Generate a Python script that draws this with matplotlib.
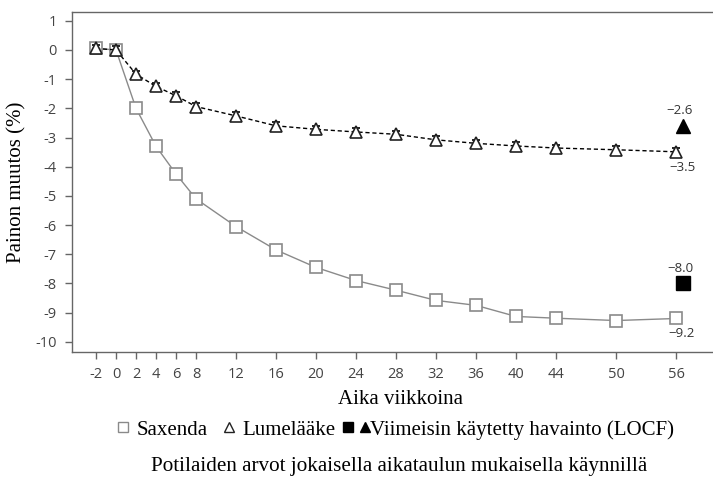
"""
Painon muutos (%) ajan funktiona: Saxenda vs. lumelääke.
"""
import matplotlib
matplotlib.use("Agg")
import matplotlib.pyplot as plt
from matplotlib.lines import Line2D
from matplotlib.legend_handler import HandlerTuple

WEEKS = [-2, 0, 2, 4, 6, 8, 12, 16, 20, 24, 28, 32, 36, 40, 44, 50, 56]
SAXENDA = [0.05, 0.0, -2.0, -3.3, -4.25, -5.1, -6.05, -6.85, -7.45, -7.9,
           -8.23, -8.58, -8.75, -9.13, -9.19, -9.27, -9.2]
PLACEBO = [0.05, 0.0, -0.83, -1.25, -1.57, -1.94, -2.26, -2.6, -2.72, -2.81,
           -2.89, -3.08, -3.2, -3.29, -3.36, -3.42, -3.49]
SAX_ERR = 0.12
PLA_ERR = 0.12
LOCF_WEEK = 56.7
LOCF_SAXENDA = -8.0
LOCF_PLACEBO = -2.6
YTICKS = list(range(1, -11, -1))

SERIF = "Liberation Serif"
SANS = "Open Sans"
GRAY = "#8a8a8a"
TICK_GRAY = "#444444"

fig = plt.figure(figsize=(7.13, 4.79), dpi=100)
ax = fig.add_axes([0.101, 0.265, 0.899, 0.71])

ax.errorbar(WEEKS, SAXENDA, yerr=SAX_ERR, color=GRAY, lw=1.0, marker="s",
            ms=8, mfc="white", mec=GRAY, mew=1.2, capsize=3, elinewidth=0.8,
            zorder=3)
ax.errorbar(WEEKS, PLACEBO, yerr=PLA_ERR, color="black", lw=1.0, ls=(0, (3, 2)),
            marker="^", ms=8.5, mfc="white", mec="#222222", mew=1.2, capsize=3,
            elinewidth=0.8, zorder=4)
ax.plot([LOCF_WEEK], [LOCF_SAXENDA], marker="s", ms=10, color="black", ls="none")
ax.plot([LOCF_WEEK], [LOCF_PLACEBO], marker="^", ms=10, color="black", ls="none")

lab_kw = dict(fontsize=9.5, family=SANS, color="#333333", ha="center")
ax.text(LOCF_WEEK - 0.3, LOCF_PLACEBO + 0.3, "\u22122.6", va="bottom", **lab_kw)
ax.text(LOCF_WEEK - 0.3, LOCF_SAXENDA + 0.3, "\u22128.0", va="bottom", **lab_kw)
ax.text(WEEKS[-1] + 0.6, PLACEBO[-1] - 0.3, "\u22123.5", va="top", **lab_kw)
ax.text(WEEKS[-1] + 0.6, SAXENDA[-1] - 0.3, "\u22129.2", va="top", **lab_kw)

ax.set_xlim(-4.4, 59.7)
ax.set_ylim(-10.35, 1.3)
ax.set_xticks(WEEKS)
ax.set_xticklabels([str(w) for w in WEEKS])
ax.set_yticks(YTICKS)
ax.set_yticklabels([str(v) for v in YTICKS])

ax.spines["right"].set_visible(False)
for side in ["left", "bottom", "top"]:
    ax.spines[side].set_color("#666666")
    ax.spines[side].set_linewidth(1.0)
ax.tick_params(direction="out", length=5, width=1, colors="#666666",
               labelcolor=TICK_GRAY, labelsize=10.5, pad=6)
for lab in ax.get_xticklabels() + ax.get_yticklabels():
    lab.set_family(SANS)

ax.set_xlabel("Aika viikkoina", family=SERIF, fontsize=15)
ax.xaxis.set_label_coords(0.512, -0.112)
ax.set_ylabel("Painon muutos (%)", family=SERIF, fontsize=15, labelpad=6)

h_sax = Line2D([], [], color=GRAY, marker="s", ms=7, mfc="white", mec=GRAY,
               lw=0)
h_pla = Line2D([], [], color="black", marker="^", ms=7.5, mfc="white",
               mec="#222222", lw=0)
h_sq = Line2D([], [], color="black", marker="s", ms=7, lw=0)
h_tr = Line2D([], [], color="black", marker="^", ms=7.5, lw=0)
fig.legend([h_sax, h_pla, (h_sq, h_tr)],
           ["Saxenda", "Lumelääke", "Viimeisin käytetty havainto (LOCF)"],
           handler_map={tuple: HandlerTuple(ndivide=None, pad=0.8)},
           loc="center", bbox_to_anchor=(0.553, 0.103), ncol=3, frameon=False,
           prop={"family": SERIF, "size": 15}, handlelength=0.8,
           handletextpad=0.25, columnspacing=0.6, borderaxespad=0)

fig.text(0.56, 0.027, "Potilaiden arvot jokaisella aikataulun mukaisella käynnillä",
         ha="center", va="center", family=SERIF, fontsize=15.2)

fig.savefig("out.png", dpi=100)
